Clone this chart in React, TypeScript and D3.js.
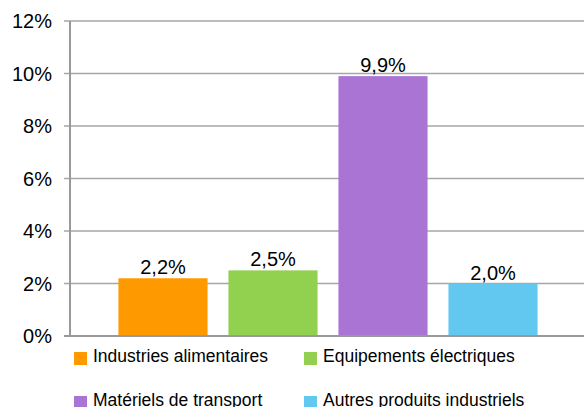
import React from "react";
import * as d3 from "d3";

const categories = ["Industries alimentaires", "Equipements électriques", "Matériels de transport", "Autres produits industriels"];
const values = [2.2, 2.5, 9.9, 2.0];
const labels = ["2,2%", "2,5%", "9,9%", "2,0%"];
const colors = ["#FF9900", "#92D050", "#AA74D5", "#63C8F0"];
const yTicks = [0, 2, 4, 6, 8, 10, 12];

const W = 584;
const H = 407;
const FONT = "'Liberation Sans', Arial, sans-serif";

export default function App() {
  const y = d3.scaleLinear().domain([0, 12]).range([336, 21]);
  const x = d3.scaleBand<string>().domain(categories).range([108, 548]).paddingInner(0.19).paddingOuter(0.095);
  const legendPos = [
    [74, 352],
    [304, 352],
    [74, 396],
    [304, 396],
  ];
  return (
    <svg width={W} height={H} style={{ position: "absolute", left: 0, top: 0 }} fontFamily={FONT}>
      <rect width={W} height={H} fill="#fff" />
      {yTicks.map((t) => (
        <g key={t}>
          <line x1={64} x2={W} y1={y(t)} y2={y(t)} stroke="#A6A6A6" strokeWidth={1.5} />
          <text x={52} y={y(t) + 7} textAnchor="end" fontSize={20} fill="#000">
            {t}%
          </text>
        </g>
      ))}
      <line x1={70} x2={70} y1={y(12)} y2={y(0)} stroke="#999" strokeWidth={2} />
      {categories.map((c, i) => (
        <g key={c}>
          <rect x={x(c)} y={y(values[i])} width={x.bandwidth()} height={y(0) - y(values[i])} fill={colors[i]} />
          <text x={(x(c) as number) + x.bandwidth() / 2} y={y(values[i]) - 4} textAnchor="middle" fontSize={20} fill="#000">
            {labels[i]}
          </text>
        </g>
      ))}
      <line x1={64} x2={W} y1={y(0)} y2={y(0)} stroke="#999" strokeWidth={2} />
      {categories.map((c, i) => (
        <g key={"l" + c}>
          <rect x={legendPos[i][0]} y={legendPos[i][1]} width={13} height={13} fill={colors[i]} />
          <text x={legendPos[i][0] + 19} y={legendPos[i][1] + 10} fontSize={17.5} fill="#000">
            {c}
          </text>
        </g>
      ))}
    </svg>
  );
}
